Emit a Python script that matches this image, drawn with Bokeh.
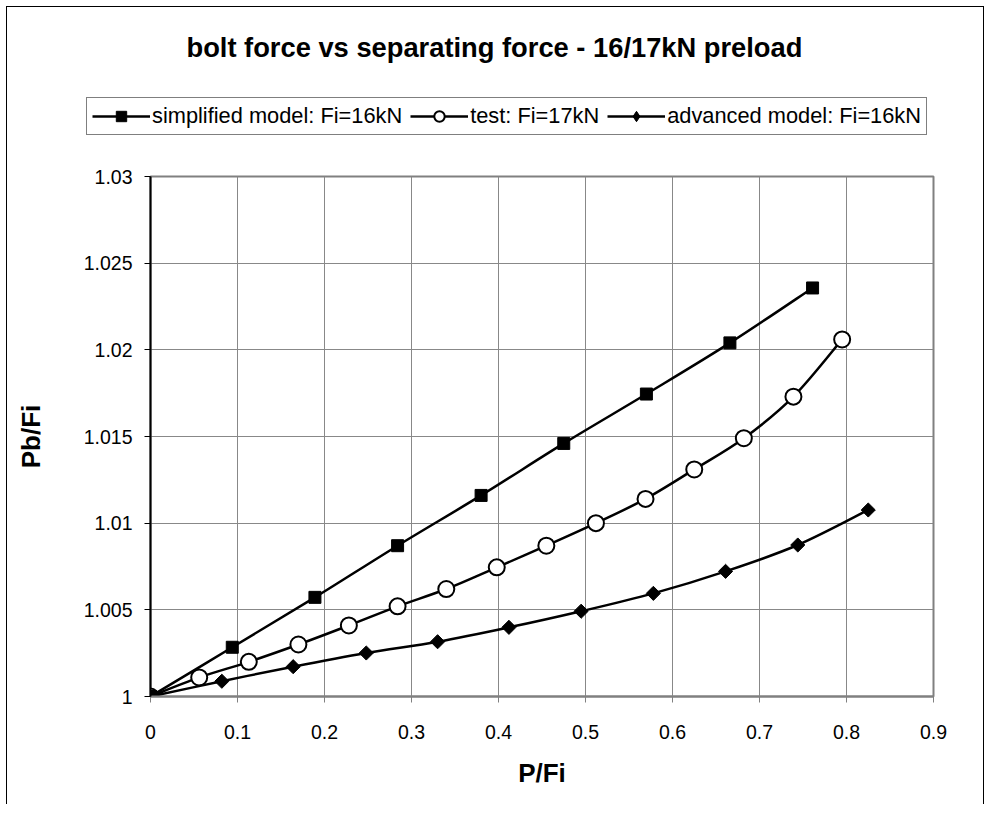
import numpy as np
from bokeh.plotting import figure
from bokeh.layouts import column, row
from bokeh.models import Legend, LegendItem, FixedTicker, Range1d
from bokeh.embed import file_html
from bokeh.resources import INLINE

# ---------------- data ----------------
title_text = "bolt force vs separating force - 16/17kN preload"
x_label = "P/Fi"
y_label = "Pb/Fi"

series_names = ["simplified model: Fi=16kN", "test: Fi=17kN", "advanced model: Fi=16kN"]

simplified_x = [0.0, 0.094, 0.189, 0.284, 0.380, 0.475, 0.570, 0.666, 0.761]
simplified_y = [1.0, 1.00284, 1.00572, 1.0087, 1.0116, 1.0146, 1.01745, 1.0204, 1.02357]

test_x = [0.0, 0.056, 0.113, 0.170, 0.228, 0.284, 0.340, 0.398, 0.455, 0.512,
          0.569, 0.625, 0.682, 0.739, 0.795]
test_y = [1.0, 1.0011, 1.0020, 1.0030, 1.0041, 1.0052, 1.0062, 1.00745, 1.0087, 1.0100,
          1.0114, 1.0131, 1.0149, 1.0173, 1.0206]

advanced_x = [0.0, 0.082, 0.164, 0.248, 0.330, 0.412, 0.495, 0.578, 0.661, 0.744, 0.825]
advanced_y = [1.0, 1.00088, 1.00172, 1.00251, 1.00316, 1.00399, 1.00492, 1.00595,
              1.00722, 1.00874, 1.01076]

x_ticks = [0.0, 0.1, 0.2, 0.3, 0.4, 0.5, 0.6, 0.7, 0.8, 0.9]
x_tick_labels = ["0", "0.1", "0.2", "0.3", "0.4", "0.5", "0.6", "0.7", "0.8", "0.9"]
y_ticks = [1.0, 1.005, 1.01, 1.015, 1.02, 1.025, 1.03]
y_tick_labels = ["1", "1.005", "1.01", "1.015", "1.02", "1.025", "1.03"]

FONT = "Liberation Sans"
W = 976
HEAD_H = 159
MAIN_H = 638

series = [
    (series_names[0], simplified_x, simplified_y),
    (series_names[1], test_x, test_y),
    (series_names[2], advanced_x, advanced_y),
]
marker_styles = [
    dict(marker="square", size=12, fill_color="black", line_color="black", line_width=1, angle=0.0),
    dict(marker="circle", size=16, fill_color="white", line_color="black", line_width=2, angle=0.0),
    dict(marker="square", size=10, fill_color="black", line_color="black", line_width=1, angle=np.pi / 4),
]
legend_markers = ["square", "circle", "diamond"]
LW = 2.5


def smooth_segments(xs, ys, t=1.0 / 6.0):
    """Cubic Bezier segments through the data points (Catmull-Rom style)."""
    x = np.asarray(xs, float)
    y = np.asarray(ys, float)
    n = len(x)
    xp = np.concatenate([[x[0]], x, [x[-1]]])
    yp = np.concatenate([[y[0]], y, [y[-1]]])
    return dict(
        x0=x[:-1], y0=y[:-1], x1=x[1:], y1=y[1:],
        cx0=x[:-1] + (xp[2:n + 1] - xp[0:n - 1]) * t,
        cy0=y[:-1] + (yp[2:n + 1] - yp[0:n - 1]) * t,
        cx1=x[1:] - (xp[3:n + 2] - xp[1:n]) * t,
        cy1=y[1:] - (yp[3:n + 2] - yp[1:n]) * t,
    )


# ---------------- header figure: title + legend ----------------
# its ranges lie away from the data, so the series drawn here only feed the legend
head = figure(
    width=W, height=HEAD_H,
    x_range=Range1d(10, 20), y_range=Range1d(10, 20),
    output_backend="svg", toolbar_location=None,
    x_axis_location=None, y_axis_location=None,
    min_border=0, min_border_left=0, min_border_right=0,
    min_border_top=0, min_border_bottom=0,
    background_fill_color="white", border_fill_color="white",
)
head.outline_line_color = None
head.grid.visible = False
head.title.text = title_text
head.title.align = "left"
head.title.offset = 179
head.title.standoff = 44
head.title.text_font = FONT
head.title.text_font_size = "27.3px"
head.title.text_font_style = "bold"
head.title.text_color = "black"

legend_items = []
for (name, xs, ys), ms, lm in zip(series, marker_styles, legend_markers):
    lr = head.line(xs, ys, line_color="black", line_width=LW)
    style = dict(ms, marker=lm, angle=0.0)
    mr = head.scatter(xs, ys, **style)
    legend_items.append(LegendItem(label=name, renderers=[lr, mr]))

legend = Legend(
    items=legend_items,
    location=(79, 31),
    orientation="horizontal",
    label_text_font=FONT,
    label_text_font_size="21.8px",
    label_text_color="black",
    glyph_width=58, glyph_height=26,
    label_standoff=2, spacing=8, padding=5, margin=0,
    border_line_color="black", border_line_width=1,
    background_fill_color="white", background_fill_alpha=1.0,
)
head.add_layout(legend)

# ---------------- main chart ----------------
p = figure(
    width=W, height=MAIN_H, title=None,
    x_range=Range1d(x_ticks[0], x_ticks[-1]),
    y_range=Range1d(y_ticks[0], y_ticks[-1]),
    output_backend="svg", toolbar_location=None,
    min_border_left=143, min_border_right=50,
    min_border_top=10, min_border_bottom=108,
    background_fill_color="white", border_fill_color="white",
)
p.outline_line_color = "#808080"
p.outline_line_width = 2

p.xaxis.ticker = FixedTicker(ticks=x_ticks)
p.yaxis.ticker = FixedTicker(ticks=y_ticks)
p.xaxis.major_label_overrides = {v: s for v, s in zip(x_ticks, x_tick_labels)}
p.yaxis.major_label_overrides = {v: s for v, s in zip(y_ticks, y_tick_labels)}

for ax in (p.xaxis[0], p.yaxis[0]):
    ax.major_label_text_font = FONT
    ax.major_label_text_font_size = "19.5px"
    ax.major_label_text_color = "black"
    ax.axis_label_text_font = FONT
    ax.axis_label_text_font_size = "26px"
    ax.axis_label_text_font_style = "bold"
    ax.axis_label_text_color = "black"
    ax.minor_tick_line_color = None
    ax.major_tick_in = 0
    ax.major_tick_out = 6
    ax.axis_line_width = 2
    ax.major_tick_line_width = 1

p.xaxis.axis_label = x_label
p.yaxis.axis_label = y_label
p.xaxis.axis_line_color = "#808080"
p.xaxis.major_tick_line_color = "#808080"
p.yaxis.axis_line_color = "black"
p.yaxis.major_tick_line_color = "black"
p.xaxis.major_label_standoff = 22
p.xaxis.axis_label_standoff = 16
p.yaxis.major_label_standoff = 12
p.yaxis.axis_label_standoff = 35

p.xgrid.grid_line_color = "#888888"
p.ygrid.grid_line_color = "#888888"
p.xgrid.grid_line_width = 1
p.ygrid.grid_line_width = 1

# test series (circles, white fill) drawn first so the others sit on top
for idx in (1, 0, 2):
    _, xs, ys = series[idx]
    p.bezier(**smooth_segments(xs, ys), line_color="black", line_width=LW, line_cap="round")
    p.scatter(xs, ys, **marker_styles[idx])

layout = column(row(head), row(p), spacing=0)
layout.styles = {"margin-left": "6px", "margin-top": "6px",
                 "border-left": "1px solid black", "border-top": "1px solid black",
                 "border-right": "1px solid black"}

open("out.html", "w").write(file_html(layout, INLINE))
